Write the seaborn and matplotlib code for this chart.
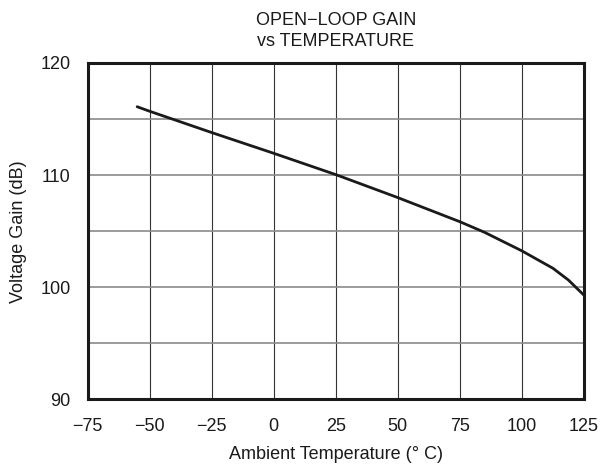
import numpy as np
import pandas as pd
import matplotlib
matplotlib.use("Agg")
import matplotlib.pyplot as plt
import seaborn as sns

# values
temperature = [-55, -50, -25, 0, 25, 50, 75, 85, 100, 112.5, 118.75, 125]
gain_db = [116.1, 115.7, 113.8, 111.95, 110.05, 108.0, 105.85, 104.9, 103.25, 101.7, 100.65, 99.3]

x_ticks = [-75, -50, -25, 0, 25, 50, 75, 100, 125]
y_ticks = [90, 100, 110, 120]
y_minor = [95, 105, 115]

df = pd.DataFrame({"temp": temperature, "gain": gain_db})

sns.set_style("white")
plt.rcParams["font.family"] = ["Liberation Sans", "DejaVu Sans"]

fs = 13
fig = plt.figure(figsize=(6.01, 4.69), dpi=100)
ax = fig.add_axes([0.1456, 0.1482, 0.826, 0.7175])

# grid
for xv in x_ticks[1:-1]:
    ax.axvline(xv, color="#333333", lw=0.8, zorder=1)
for yv in y_ticks[1:-1] + y_minor:
    ax.axhline(yv, color="#8a8a8a", lw=1.2, zorder=1)

sns.lineplot(data=df, x="temp", y="gain", ax=ax, color="#1a1a1a", lw=2.0, zorder=3)

ax.set_xlim(-75, 125)
ax.set_ylim(90, 120)
ax.set_xticks(x_ticks)
ax.set_xticklabels([str(v).replace("-", "\u2212") for v in x_ticks])
ax.set_yticks(y_ticks)
ax.tick_params(length=0, labelsize=fs, colors="#1a1a1a")
ax.tick_params(axis="x", pad=13)
ax.tick_params(axis="y", pad=12)

for s in ax.spines.values():
    s.set_linewidth(2.2)
    s.set_color("#1a1a1a")

ax.set_xlabel("Ambient Temperature (\u00b0 C)", fontsize=fs, color="#1a1a1a", labelpad=8)
ax.set_ylabel("Voltage Gain (dB)", fontsize=fs, color="#1a1a1a", labelpad=10)
ax.set_title("OPEN\u2212LOOP GAIN\nvs TEMPERATURE", fontsize=fs, color="#1a1a1a",
             pad=12, linespacing=1.35)

fig.savefig("out.png", dpi=100)
